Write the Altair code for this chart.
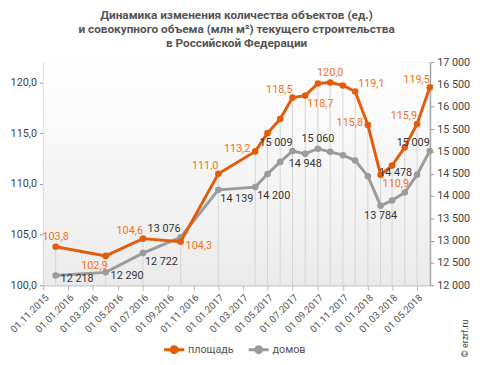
import altair as alt
import pandas as pd

# ---------------- data ----------------
dates = ["2015-12-01", "2016-04-01", "2016-07-01", "2016-10-01", "2017-01-01",
         "2017-04-01", "2017-05-01", "2017-06-01", "2017-07-01", "2017-08-01",
         "2017-09-01", "2017-10-01", "2017-11-01", "2017-12-01", "2018-01-01",
         "2018-02-01", "2018-03-01", "2018-04-01", "2018-05-01", "2018-06-01"]
area = [103.8, 102.9, 104.6, 104.3, 111.0, 113.2, 115.0, 116.4, 118.5, 118.7,
        119.9, 120.0, 119.7, 119.1, 115.8, 110.9, 111.8, 113.6, 115.9, 119.5]
houses = [12218, 12290, 12722, 13076, 14139, 14200, 14495, 14765, 15009, 14948,
          15060, 14990, 14915, 14795, 14445, 13784, 13900, 14080, 14478, 15009]

# label placement codes (None = no label)
area_pos = ["above", "below_left", "above_left", "right", "above_left", "left", None, None,
            "above_left", "below_right", None, "above", None, "above_right", "left",
            "below_right", None, None, "above_left", "above_left"]
houses_pos = ["right", "right", "below_right", "above_left", "below_right", "below_right",
              None, None, "above_left", "below", "above", None, None, None, None,
              "below", None, None, "left", "above_left"]

series_names = ["площадь", "домов"]
title_lines = ["Динамика изменения количества объектов (ед.)",
               "и совокупного объема (млн м²) текущего строительства",
               "в Российской  Федерации"]
x_ticks = ["2015-11-01", "2016-01-01", "2016-03-01", "2016-05-01", "2016-07-01",
           "2016-09-01", "2016-11-01", "2017-01-01", "2017-03-01", "2017-05-01",
           "2017-07-01", "2017-09-01", "2017-11-01", "2018-01-01", "2018-03-01",
           "2018-05-01"]
x_domain = ["2015-11-01", "2018-06-01"]
left_ticks = [100, 105, 110, 115, 120]
right_ticks = [12000, 12500, 13000, 13500, 14000, 14500, 15000, 15500, 16000, 16500, 17000]

# ---------------- styles ----------------
ORANGE = "#E25C0C"
ORANGE_TXT = "#EC7418"
GRAY = "#9B9B9B"
FONT = "Roboto"
PLACE = {
    "above": dict(align="center", dx=0, dy=-10),
    "below": dict(align="center", dx=0, dy=11),
    "left": dict(align="right", dx=-5, dy=-2),
    "right": dict(align="left", dx=5, dy=4),
    "above_left": dict(align="right", dx=0, dy=-8),
    "above_right": dict(align="left", dx=3, dy=-8),
    "below_left": dict(align="right", dx=2, dy=10),
    "below_right": dict(align="left", dx=2, dy=9),
}

df = pd.DataFrame({
    "date": dates,
    "area": area,
    "houses": houses,
    "area_pos": area_pos,
    "houses_pos": houses_pos,
})
df["area_lbl"] = [f"{v:.1f}".replace(".", ",") for v in area]
df["houses_lbl"] = [f"{v:,}".replace(",", " ") for v in houses]


def ms(s):
    return int(pd.Timestamp(s, tz="UTC").value // 10**6)


x_enc = alt.X(
    "date:T",
    scale=alt.Scale(type="utc", domain=[ms(d) for d in x_domain]),
    axis=alt.Axis(
        values=[ms(d) for d in x_ticks],
        labelExpr="utcFormat(datum.value, '%d.%m.%Y')",
        labelAngle=-45, labelFontSize=10, labelColor="#555", labelFont=FONT,
        labelOverlap=False, labelBound=False, labelFlush=False,
        domainColor="#bbb", domainWidth=1, tickColor="#bbb", tickSize=5,
        grid=False, title=None, labelPadding=2,
    ),
)

area_scale = alt.Scale(domain=[100, 122], nice=False, zero=False)
houses_scale = alt.Scale(domain=[12000, 17000], nice=False, zero=False)

y_area_axis = alt.Y(
    "area:Q", scale=area_scale,
    axis=alt.Axis(orient="left", values=left_ticks, grid=False, title=None,
                  labelExpr="replace(format(datum.value, '.1f'), '.', ',')",
                  labelFontSize=11, labelColor="#444", labelFont=FONT,
                  domainColor="#bdbdbd", domainWidth=2, tickColor="#999",
                  tickSize=4, labelPadding=3),
)
y_houses_axis = alt.Y(
    "houses:Q", scale=houses_scale,
    axis=alt.Axis(orient="right", values=right_ticks, grid=False, title=None,
                  labelExpr="replace(format(datum.value, ','), ',', ' ')",
                  labelFontSize=11, labelColor="#444", labelFont=FONT,
                  domainColor="#a0a0a0", domainWidth=2, tickColor="#999",
                  tickSize=4, labelPadding=3),
)
y_area_plain = alt.Y("area:Q", scale=area_scale, axis=None)
y_houses_plain = alt.Y("houses:Q", scale=houses_scale, axis=None)

color_scale = alt.Scale(domain=series_names, range=[ORANGE, GRAY])

base = alt.Chart(df)

bg = alt.Chart(alt.Data(values=[{"k": 1}])).mark_rect(
    color=alt.LinearGradient(
        gradient="linear",
        stops=[alt.GradientStop(offset=0, color="#ffffff"),
               alt.GradientStop(offset=1, color="#ebebeb")],
        x1=0, x2=0, y1=0, y2=1),
).encode(x=alt.value(0), x2=alt.value("width"), y=alt.value(0), y2=alt.value("height"))

rules = base.mark_rule(color="#d4d4d4", strokeWidth=1).encode(
    x=x_enc, y=y_area_plain, y2=alt.value("height"))

legend = alt.Legend(
    orient="none", legendX=121, legendY=280, direction="horizontal", title=None,
    symbolType="M-1,0L1,0M0.3,0A0.3,0.3,0,1,1,-0.3,0A0.3,0.3,0,1,1,0.3,0",
    symbolSize=420, symbolStrokeWidth=3, labelFontSize=11, labelColor="#555",
    labelFont=FONT, columnPadding=8, labelOffset=2,
)

gray_line = base.transform_calculate(series=f"'{series_names[1]}'").mark_line(
    strokeWidth=3, point=alt.OverlayMarkDef(filled=True, size=45, color=GRAY)
).encode(x=x_enc, y=y_houses_axis,
         color=alt.Color("series:N", scale=color_scale, legend=legend))

orange_line = base.transform_calculate(series=f"'{series_names[0]}'").mark_line(
    strokeWidth=3, point=alt.OverlayMarkDef(filled=True, size=45, color=ORANGE)
).encode(x=x_enc, y=y_area_axis,
         color=alt.Color("series:N", scale=color_scale, legend=legend))

text_layers = []
for code, st in PLACE.items():
    if code in area_pos:
        text_layers.append(
            base.transform_filter(alt.datum.area_pos == code).mark_text(
                fontSize=11, font=FONT, color=ORANGE_TXT, baseline="middle", **st
            ).encode(x=x_enc, y=y_area_plain, text="area_lbl:N"))
    if code in houses_pos:
        text_layers.append(
            base.transform_filter(alt.datum.houses_pos == code).mark_text(
                fontSize=11, font=FONT, color="#333", baseline="middle", **st
            ).encode(x=x_enc, y=y_houses_plain, text="houses_lbl:N"))

copyright = alt.Chart(alt.Data(values=[{"t": "© erzrf.ru"}])).mark_text(
    angle=270, fontSize=9, font=FONT, color="#444", align="center", baseline="middle"
).encode(x=alt.value(429), y=alt.value(281), text="t:N")

chart = alt.layer(
    bg, rules, gray_line, orange_line, *text_layers, copyright
).resolve_scale(y="independent").properties(
    width=393, height=227,
    autosize=alt.AutoSizeParams(type="none"),
    padding={"left": 36, "top": 52, "right": 45, "bottom": 78},
    title=alt.TitleParams(text=title_lines, fontSize=12, fontWeight="bold",
                          color="#555", font=FONT, anchor="middle",
                          lineHeight=14.5, offset=6),
).configure_view(stroke="#dddddd", strokeWidth=1)

chart.save("out.html", embed_options={"renderer": "svg", "actions": False})
